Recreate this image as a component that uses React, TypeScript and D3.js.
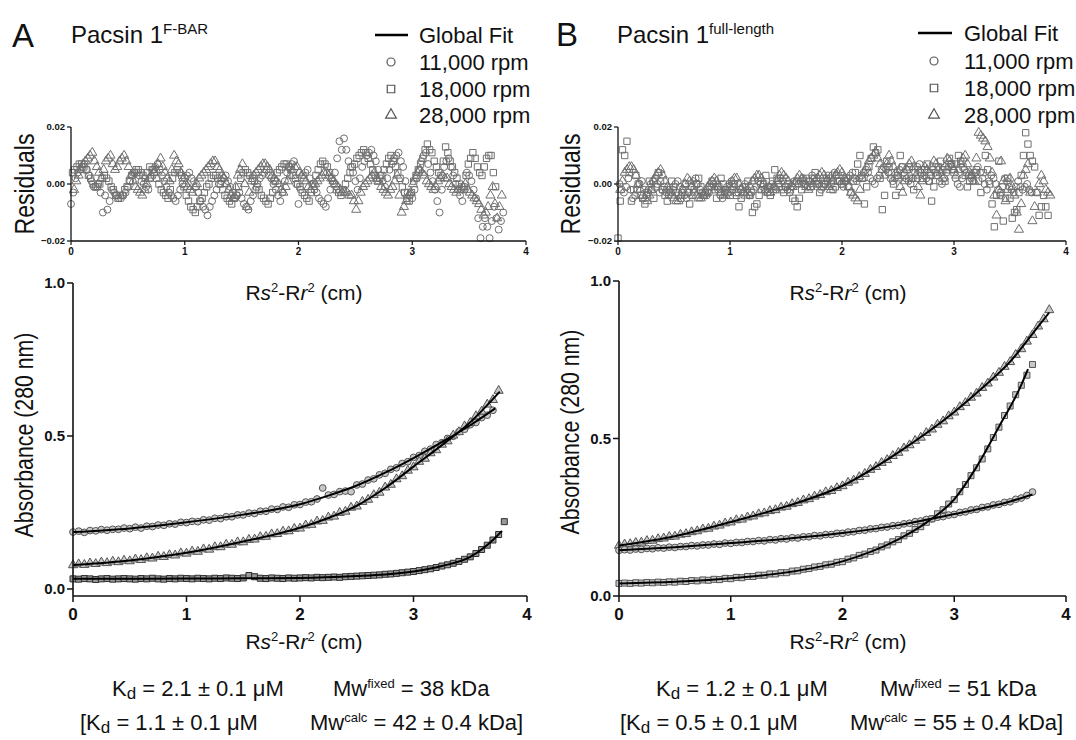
import React from "react";
import * as d3 from "d3";

const FONT = "'Liberation Sans', Arial, Helvetica, sans-serif";

// ---------------- data ----------------
const SPEEDS = ["11,000 rpm", "18,000 rpm", "28,000 rpm"];
const X_TICKS = [0, 1, 2, 3, 4];
const RES_TICKS = [-0.02, 0, 0.02];
const ABS_TICKS = [0, 0.5, 1.0];

const RES_STEP = 0.04; // cm between residual samples (second list sits half a step later)
const ABS_STEP = 0.05; // cm between absorbance samples

// Panel A residuals (absorbance x 10^-3)
const A_RES_11K = [
  -7, 2, 5, 7, 3, -1, 0, -10, -9, -2,
  -4, -5, -3, 1, 4, 3, 0, -2, 5, 7,
  3, -1, -4, -6, -2, 2, 4, 1, -3, -8,
  -11, -6, -2, 1, 3, -1, -5, -3, -7, -9,
  -4, 0, 3, 5, 2, -2, -6, 1, 6, 8,
  -7, 3, 5, 0, -3, -6, -8, -2, 4, 15,
  16, 8, 4, -2, 6, 10, 12, 8, 3, -1,
  5, 9, 11, 6, -3, -5, 2, 8, 11, 4,
  -2, -10, 6, 9, 3, -2, -6, 4, 1, -5,
  -19, -12, -19, -8, -16, -10,
];
const A_RES_11K_B = [
  -3, 4, 6, 5, 1, -1, -3, -4, -6, -3,
  -5, -4, -1, 3, 4, 1, -1, 2, 6, 5,
  1, -3, -5, -4, 0, 3, 2, -1, -6, -9,
  -8, -4, 0, 2, 1, -3, -4, -5, -8, -6,
  -2, 2, 4, 3, 0, -4, -3, 4, 7, 0,
  -2, 4, 2, -2, -5, -7, -5, 1, 9, 12,
  12, 6, 1, 2, 8, 11, 10, 5, 1, 2,
  7, 10, 8, 1, -4, -2, 5, 10, 7, 1,
  -6, -2, 8, 6, 0, -4, -1, 3, -2, -12,
  -15, -15, -13, -12, -13,
];
const A_RES_18K = [
  4, 6, 7, 5, 2, -1, 0, 3, 1, -2,
  -5, -4, -1, 3, 5, 4, 2, 6, 4, 0,
  -3, -5, 2, 5, 3, -4, -8, -10, -6, -3,
  0, 3, 2, -2, -5, -7, -4, 2, 5, 3,
  1, -2, -5, -7, -3, 4, 6, 7, 5, 2,
  -1, -4, -6, 0, 5, 8, 6, 2, -2, -4,
  0, 4, 7, 10, 12, 9, 5, 1, 3, 7,
  10, 6, 2, -3, -6, 1, 5, 9, 14, 11,
  6, 3, 13, 8, 4, 0, -2, 7, 11, 6,
  3, 9, 10, -1,
];
const A_RES_18K_B = [
  5, 7, 6, 3, 0, -1, 2, 2, -1, -4,
  -4, -2, 1, 4, 5, 3, 4, 5, 2, -2,
  -4, -2, 4, 4, -1, -6, -9, -8, -5, -1,
  2, 3, 0, -4, -6, -5, -1, 4, 4, 2,
  -1, -4, -6, -5, 1, 5, 7, 6, 3, 0,
  -3, -5, -3, 3, 7, 7, 4, 0, -3, -2,
  2, 6, 9, 11, 11, 7, 3, 2, 5, 9,
  8, 4, -1, -5, -3, 3, 7, 12, 12, 8,
  4, 8, 11, 6, 2, -1, 3, 9, 9, 4,
  6, 10, 4,
];
const A_RES_28K = [
  -2, 3, 7, 9, 11, 6, 2, 8, 10, 5,
  8, 10, 6, 1, -2, -4, 0, 3, 5, 9,
  4, 1, 10, 7, 2, -1, -3, 0, 3, 5,
  7, 8, 5, 2, -2, -5, 3, 7, -8, 1,
  4, 6, 7, 5, 2, 0, -3, 1, 5, 6,
  3, 1, -2, 0, 2, 4, 3, 1, -1, -3,
  -3, -4, -9, -3, 0, 2, 4, 1, -2, -4,
  -1, 3, -10, -6, -3, 2, 5, 3, 0, -2,
  1, 3, 2, -1, -3, -2, 0, -3, -5, -7,
  -11, -8, -1, -12, -4,
];
const A_RES_28K_B = [
  1, 5, 8, 10, 8, 4, 5, 9, 7, 6,
  9, 8, 3, -1, -3, -2, 2, 4, 7, 6,
  2, 5, 8, 4, 0, -2, -1, 2, 4, 6,
  8, 6, 3, 0, -4, -1, 5, 0, -3, 3,
  5, 7, 6, 3, 1, -2, -1, 3, 6, 4,
  2, -1, -1, 1, 3, 4, 2, 0, -2, -3,
  -4, -6, -6, -1, 1, 3, 2, -1, -3, -2,
  1, -4, -8, -4, 0, 4, 4, 1, -1, -1,
  2, 2, 0, -2, -2, -1, -2, -4, -6, -9,
  -10, -4, -7, -8,
];

// Panel B residuals (absorbance x 10^-3)
const B_RES_11K = [
  0, -3, 2, -5, -2, 1, -4, 0, 2, -3,
  -1, -4, -2, 1, -3, -5, -1, 2, -2, -4,
  -3, 0, -2, -5, -1, 1, -3, -2, 0, -4,
  -2, 1, -1, -3, 0, -2, 2, -1, -3, 1,
  0, 2, -1, 3, 1, -2, 0, 2, 4, 1,
  -1, 2, 4, 1, 3, 5, 2, 0, 3, 6,
  4, 1, 3, 6, 2, 0, 4, 7, 3, 1,
  5, 3, 0, 4, 7, 2, -1, 5, 3, 1,
  6, 2, -2, 3, 0, -4, 2, -1, -3, 1,
  -2, 0, -3,
];
const B_RES_11K_B = [
  -2, -1, -2, -4, 0, -2, -2, 1, 0, -2,
  -3, -3, 0, -1, -4, -3, 1, 0, -3, -4,
  -1, -1, -4, -3, 0, -1, -3, -1, -2, -3,
  -1, 0, -2, -1, -1, 0, 1, -2, -1, 1,
  1, 0, 1, 2, 0, -1, 1, 3, 3, 0,
  1, 3, 2, 2, 4, 4, 1, 2, 5, 5,
  2, 2, 5, 4, 1, 2, 6, 5, 2, 3,
  4, 1, 2, 6, 5, 0, 2, 4, 2, 4,
  4, 0, 1, 2, -2, -1, 1, -2, -1, -1,
  -1, -2,
];
const B_RES_18K = [
  -19, 12, 15, -6, 3, -4, -7, 1, -5, 4,
  -2, -6, 1, -3, -5, 0, -7, -2, 2, -4,
  -3, 1, -5, 2, -2, -4, 0, -8, -3, 1,
  -10, -7, -2, 3, -4, 5, -1, -3, 0, -5,
  -8, -2, 2, -1, 4, -3, 0, 3, -2, 1,
  0, 2, -3, 4, 10, -7, 6, 13, 12, -9,
  8, 4, -4, 10, 3, 6, -2, 5, 2, 7,
  -6, 3, 8, 1, 9, 4, 10, 6, -1, 3,
  5, -3, 10, 0, -15, 8, -13, 2, -12, -9,
  3, 18, 10, 6, -11, -4, -11,
];
const B_RES_18K_B = [
  -6, 10, 4, -2, 0, -5, -3, -2, -1, 1,
  -4, -2, -1, -4, -2, -3, -4, 0, -1, -3,
  -1, -2, -1, 0, -3, -2, -4, -5, -1, -4,
  -8, -4, 0, -1, 1, 2, -2, -1, -2, -6,
  -5, 0, 1, 2, 0, -1, 2, 0, -1, 1,
  1, -1, 1, 7, 2, -1, 9, 11, 2, -4,
  6, 0, 3, 6, 5, 2, 2, 4, 5, 1,
  -1, 6, 5, 5, 7, 7, 8, 3, 1, 4,
  1, 4, 5, -7, -4, -3, -5, -5, -10, -3,
  10, 14, 8, -3, -8, -8,
];
const B_RES_28K = [
  -2, 4, 6, 5, 0, -4, -6, -2, 3, 5,
  1, -3, -5, -6, -2, 2, -1, -4, -5, -3,
  0, 2, -1, -4, -3, 1, 2, -2, -4, -1,
  2, 3, 0, -3, -2, 1, 4, 2, -1, 0,
  3, 1, -2, 0, 2, 4, 1, -2, 3, 5,
  2, -1, -4, -6, 2, 6, 9, 11, 7, 3,
  10, 6, 2, -3, 5, 8, 3, -4, 6, 4,
  8, 5, 2, 9, 6, 3, 7, 10, 4, 1,
  18, 16, 13, 4, -11, 8, -6, 2, -4, -16,
  3, 7, -13, -3, 3, -2, -4,
];
const B_RES_28K_B = [
  1, 5, 6, 3, -2, -5, -4, 1, 4, 3,
  -1, -4, -6, -4, 0, 1, -3, -5, -4, -1,
  1, 1, -3, -4, -1, 2, 0, -3, -3, 1,
  3, 2, -2, -3, -1, 3, 3, 1, -1, 2,
  2, -1, -1, 1, 3, 3, -1, 1, 4, 4,
  1, -3, -5, -2, 4, 8, 10, 9, 5, 7,
  8, 4, -1, 1, 7, 6, -1, 1, 5, 6,
  7, 4, 6, 8, 5, 5, 9, 7, 3, 9,
  17, 15, 9, -4, -2, 1, -2, -1, -10, -7,
  5, -3, -8, 0, 1, -3,
];

// Panel A absorbance data (every 0.05 cm from 0)
const A_ABS_TOP = [
  0.186, 0.189, 0.185, 0.191, 0.190, 0.194, 0.192, 0.195, 0.195, 0.199,
  0.197, 0.202, 0.199, 0.205, 0.204, 0.209, 0.208, 0.213, 0.212, 0.218,
  0.217, 0.221, 0.220, 0.226, 0.225, 0.231, 0.230, 0.236, 0.236, 0.242,
  0.242, 0.248, 0.247, 0.254, 0.254, 0.261, 0.260, 0.268, 0.267, 0.275,
  0.276, 0.284, 0.285, 0.294, 0.330, 0.307, 0.309, 0.318, 0.320, 0.318,
  0.340, 0.343, 0.356, 0.360, 0.373, 0.378, 0.391, 0.396, 0.410, 0.416,
  0.430, 0.436, 0.450, 0.457, 0.472, 0.478, 0.492, 0.499, 0.514, 0.522,
  0.537, 0.544, 0.560, 0.568, 0.584,
];
const A_ABS_MID = [
  0.078, 0.081, 0.079, 0.084, 0.082, 0.087, 0.085, 0.090, 0.088, 0.093,
  0.091, 0.097, 0.095, 0.101, 0.100, 0.106, 0.105, 0.111, 0.110, 0.117,
  0.116, 0.123, 0.122, 0.130, 0.129, 0.137, 0.137, 0.145, 0.145, 0.153,
  0.153, 0.161, 0.162, 0.170, 0.171, 0.179, 0.180, 0.188, 0.189, 0.197,
  0.198, 0.208, 0.210, 0.221, 0.223, 0.234, 0.237, 0.249, 0.253, 0.266,
  0.270, 0.285, 0.292, 0.307, 0.315, 0.332, 0.341, 0.359, 0.369, 0.387,
  0.398, 0.416, 0.426, 0.444, 0.454, 0.472, 0.483, 0.502, 0.513, 0.532,
  0.543, 0.565, 0.580, 0.603, 0.618, 0.648,
];
const A_ABS_LOW = [
  0.033, 0.032, 0.034, 0.033, 0.031, 0.033, 0.034, 0.032, 0.033, 0.034,
  0.033, 0.032, 0.034, 0.033, 0.035, 0.033, 0.032, 0.034, 0.033, 0.035,
  0.034, 0.033, 0.035, 0.034, 0.033, 0.035, 0.034, 0.036, 0.035, 0.034,
  0.036, 0.044, 0.040, 0.035, 0.034, 0.036, 0.035, 0.034, 0.036, 0.035,
  0.036, 0.037, 0.036, 0.038, 0.037, 0.038, 0.039, 0.038, 0.040, 0.041,
  0.042, 0.043, 0.044, 0.045, 0.046, 0.048, 0.049, 0.051, 0.053, 0.055,
  0.057, 0.060, 0.063, 0.066, 0.070, 0.075, 0.079, 0.084, 0.090, 0.097,
  0.105, 0.116, 0.129, 0.143, 0.160, 0.178, 0.220,
];

// Panel B absorbance data (every 0.05 cm from 0)
const B_ABS_TOP = [
  0.160, 0.164, 0.165, 0.169, 0.170, 0.175, 0.176, 0.181, 0.183, 0.188,
  0.189, 0.195, 0.197, 0.203, 0.206, 0.212, 0.214, 0.221, 0.224, 0.231,
  0.234, 0.241, 0.243, 0.250, 0.253, 0.260, 0.263, 0.270, 0.273, 0.281,
  0.284, 0.292, 0.296, 0.304, 0.308, 0.316, 0.321, 0.330, 0.334, 0.343,
  0.349, 0.360, 0.367, 0.378, 0.388, 0.401, 0.410, 0.423, 0.432, 0.445,
  0.455, 0.469, 0.479, 0.493, 0.503, 0.518, 0.529, 0.544, 0.555, 0.571,
  0.583, 0.600, 0.613, 0.630, 0.643, 0.661, 0.675, 0.694, 0.709, 0.728,
  0.743, 0.766, 0.784, 0.808, 0.829, 0.856, 0.879, 0.908,
];
const B_ABS_MID = [
  0.145, 0.147, 0.146, 0.149, 0.148, 0.151, 0.150, 0.153, 0.152, 0.155,
  0.154, 0.157, 0.157, 0.160, 0.159, 0.162, 0.162, 0.165, 0.164, 0.168,
  0.167, 0.170, 0.170, 0.173, 0.173, 0.176, 0.175, 0.179, 0.178, 0.182,
  0.181, 0.185, 0.184, 0.188, 0.188, 0.192, 0.191, 0.195, 0.195, 0.199,
  0.199, 0.203, 0.204, 0.208, 0.209, 0.213, 0.214, 0.218, 0.219, 0.223,
  0.224, 0.229, 0.231, 0.236, 0.238, 0.243, 0.245, 0.250, 0.252, 0.257,
  0.259, 0.265, 0.267, 0.273, 0.275, 0.281, 0.283, 0.289, 0.291, 0.297,
  0.299, 0.307, 0.311, 0.319, 0.330,
];
const B_ABS_LOW = [
  0.040, 0.041, 0.040, 0.042, 0.041, 0.043, 0.042, 0.044, 0.043, 0.045,
  0.044, 0.047, 0.046, 0.049, 0.048, 0.051, 0.050, 0.053, 0.052, 0.056,
  0.055, 0.059, 0.058, 0.062, 0.062, 0.066, 0.066, 0.070, 0.070, 0.074,
  0.074, 0.079, 0.080, 0.085, 0.087, 0.092, 0.094, 0.099, 0.101, 0.107,
  0.109, 0.117, 0.121, 0.129, 0.133, 0.141, 0.146, 0.156, 0.162, 0.172,
  0.179, 0.191, 0.199, 0.211, 0.220, 0.234, 0.245, 0.261, 0.274, 0.292,
  0.306, 0.331, 0.354, 0.382, 0.407, 0.435, 0.467, 0.503, 0.536, 0.573,
  0.603, 0.639, 0.669, 0.701, 0.735,
];

// Global fit curves (x in cm, y absorbance)
const A_FIT_TOP_X = [0, 0.5, 1, 1.5, 2, 2.25, 2.5, 2.75, 3, 3.25, 3.5, 3.72];
const A_FIT_TOP_Y = [0.186, 0.198, 0.218, 0.243, 0.277, 0.305, 0.338, 0.38, 0.428, 0.48, 0.535, 0.59];
const A_FIT_MID_X = [0, 0.5, 1, 1.5, 2, 2.25, 2.5, 2.75, 3, 3.25, 3.5, 3.76];
const A_FIT_MID_Y = [0.078, 0.093, 0.118, 0.155, 0.2, 0.232, 0.272, 0.33, 0.4, 0.47, 0.545, 0.645];
const A_FIT_LOW_X = [0, 0.5, 1, 1.5, 2, 2.5, 2.75, 3, 3.25, 3.5, 3.6, 3.7, 3.78];
const A_FIT_LOW_Y = [0.033, 0.033, 0.034, 0.035, 0.036, 0.042, 0.047, 0.057, 0.075, 0.105, 0.129, 0.16, 0.19];
const B_FIT_TOP_X = [0, 0.5, 1, 1.5, 2, 2.5, 3, 3.25, 3.5, 3.75, 3.85];
const B_FIT_TOP_Y = [0.16, 0.19, 0.235, 0.285, 0.35, 0.456, 0.584, 0.66, 0.744, 0.855, 0.9];
const B_FIT_MID_X = [0, 0.5, 1, 1.5, 2, 2.5, 3, 3.5, 3.7];
const B_FIT_MID_Y = [0.145, 0.155, 0.168, 0.182, 0.2, 0.225, 0.26, 0.3, 0.322];
const B_FIT_LOW_X = [0, 0.5, 1, 1.5, 2, 2.25, 2.5, 2.75, 3, 3.2, 3.4, 3.6, 3.66];
const B_FIT_LOW_Y = [0.04, 0.045, 0.056, 0.075, 0.11, 0.14, 0.18, 0.233, 0.307, 0.41, 0.537, 0.67, 0.72];

// ---------------- helpers ----------------
type Shape = "circle" | "square" | "triangle";
const SHAPES: Shape[] = ["circle", "square", "triangle"];

function symPath(shape: Shape, area: number): string {
  const t = shape === "circle" ? d3.symbolCircle : shape === "square" ? d3.symbolSquare : d3.symbolTriangle;
  return d3.symbol().type(t).size(area)() as string;
}

type ResSeries = { x0: number; values: number[]; values2: number[]; shape: Shape };
type AbsSeries = { values: number[]; shape: Shape; fitX: number[]; fitY: number[]; dark?: boolean };

type PanelCfg = {
  letter: string;
  letterX: number;
  letterY: number;
  titleX: number;
  titleY: number;
  sup: string;
  legLineX: [number, number];
  legSymX: number;
  legTextX: number;
  legBase: number[];
  resX: [number, number];
  resY: [number, number];
  resTitleX: number;
  absX: [number, number];
  absDomain: [number, number];
  absY: [number, number];
  absTitleX: number;
  absTitleY: number;
  xTitleCx: number;
  res: ResSeries[];
  abs: AbsSeries[];
  kd1: string;
  mw1: string;
  kd2: string;
  mw2: string;
  kd1X: number;
  mw1X: number;
  kd2X: number;
  mw2X: number;
};

const PANELS: PanelCfg[] = [
  {
    letter: "A", letterX: 12, letterY: 47, titleX: 71, titleY: 43, sup: "F-BAR",
    legLineX: [375, 408], legSymX: 391, legTextX: 419, legBase: [43, 70, 97, 123],
    resX: [71, 526], resY: [241, 127], resTitleX: 24,
    absX: [73, 527], absDomain: [-0.023, 1], absY: [596, 283], absTitleX: 24, absTitleY: 435,
    xTitleCx: 304,
    res: [
      { x0: 0, values: A_RES_11K, values2: A_RES_11K_B, shape: "circle" },
      { x0: 0.013, values: A_RES_18K, values2: A_RES_18K_B, shape: "square" },
      { x0: 0.027, values: A_RES_28K, values2: A_RES_28K_B, shape: "triangle" },
    ],
    abs: [
      { values: A_ABS_TOP, shape: "circle", fitX: A_FIT_TOP_X, fitY: A_FIT_TOP_Y },
      { values: A_ABS_MID, shape: "triangle", fitX: A_FIT_MID_X, fitY: A_FIT_MID_Y },
      { values: A_ABS_LOW, shape: "square", fitX: A_FIT_LOW_X, fitY: A_FIT_LOW_Y, dark: true },
    ],
    kd1: "2.1", mw1: "= 38 kDa", kd2: "1.1", mw2: "= 42 \u00b1 0.4 kDa]",
    kd1X: 112, mw1X: 333, kd2X: 80, mw2X: 310,
  },
  {
    letter: "B", letterX: 556, letterY: 46, titleX: 617, titleY: 43, sup: "full-length",
    legLineX: [918, 952], legSymX: 934, legTextX: 964, legBase: [41, 69, 96, 123],
    resX: [618, 1066], resY: [241, 127], resTitleX: 570,
    absX: [619, 1066], absDomain: [0, 1], absY: [596, 281], absTitleX: 570, absTitleY: 432,
    xTitleCx: 848,
    res: [
      { x0: 0.013, values: B_RES_11K, values2: B_RES_11K_B, shape: "circle" },
      { x0: 0, values: B_RES_18K, values2: B_RES_18K_B, shape: "square" },
      { x0: 0.02, values: B_RES_28K, values2: B_RES_28K_B, shape: "triangle" },
    ],
    abs: [
      { values: B_ABS_TOP, shape: "triangle", fitX: B_FIT_TOP_X, fitY: B_FIT_TOP_Y },
      { values: B_ABS_MID, shape: "circle", fitX: B_FIT_MID_X, fitY: B_FIT_MID_Y },
      { values: B_ABS_LOW, shape: "square", fitX: B_FIT_LOW_X, fitY: B_FIT_LOW_Y },
    ],
    kd1: "1.2", mw1: "= 51 kDa", kd2: "0.5", mw2: "= 55 \u00b1 0.4  kDa]",
    kd1X: 656, mw1X: 880, kd2X: 620, mw2X: 850,
  },
];

function XTitle({ cx, y }: { cx: number; y: number }) {
  return (
    <text x={cx} y={y} textAnchor="middle" fontSize={21} fontFamily={FONT} fill="#111">
      <tspan>R</tspan>
      <tspan fontStyle="italic">s</tspan>
      <tspan fontSize={13} dy={-8}>2</tspan>
      <tspan dy={8}>-R</tspan>
      <tspan fontStyle="italic">r</tspan>
      <tspan fontSize={13} dy={-8}>2</tspan>
      <tspan dy={8}> (cm)</tspan>
    </text>
  );
}

function Panel({ cfg }: { cfg: PanelCfg }) {
  const rx = d3.scaleLinear().domain([0, 4]).range(cfg.resX);
  const ry = d3.scaleLinear().domain([-0.02, 0.02]).range(cfg.resY);
  const ax = d3.scaleLinear().domain([0, 4]).range(cfg.absX);
  const ay = d3.scaleLinear().domain(cfg.absDomain).range(cfg.absY);
  const fitLine = (xs: number[], ys: number[]) =>
    d3
      .line<number>()
      .x((_, i) => ax(xs[i]))
      .y((v) => ay(v))
      .curve(d3.curveMonotoneX)(ys) as string;

  const resBottom = ry(-0.02);
  const absBottom = cfg.absY[0];
  const absX0 = ax(0);
  const resX0 = rx(0);
  const tickFmtRes = d3.format(".2f");
  const tickFmtAbs = d3.format(".1f");
  const resArea = (s: Shape) => (s === "square" ? 40 : s === "triangle" ? 36 : 38);

  return (
    <g>
      {/* heading */}
      <text x={cfg.letterX} y={cfg.letterY} fontSize={33} fontFamily={FONT} fill="#111">{cfg.letter}</text>
      <text x={cfg.titleX} y={cfg.titleY} fontSize={24} fontFamily={FONT} fill="#111">
        Pacsin 1<tspan fontSize={15} dy={-9}>{cfg.sup}</tspan>
      </text>

      {/* legend */}
      <line x1={cfg.legLineX[0]} x2={cfg.legLineX[1]} y1={cfg.legBase[0] - 8} y2={cfg.legBase[0] - 8} stroke="#000" strokeWidth={2.5} />
      <text x={cfg.legTextX} y={cfg.legBase[0]} fontSize={22} fontFamily={FONT} fill="#111">Global Fit</text>
      {SPEEDS.map((s, i) => (
        <g key={s}>
          <path
            d={symPath(SHAPES[i], i === 1 ? 56 : 50)}
            transform={`translate(${cfg.legSymX},${cfg.legBase[i + 1] - 8})`}
            fill="none"
            stroke="#555"
            strokeWidth={1.2}
          />
          <text x={cfg.legTextX} y={cfg.legBase[i + 1]} fontSize={22} fontFamily={FONT} fill="#111">{s}</text>
        </g>
      ))}

      {/* residual plot */}
      <g>
        {cfg.res.map((s, si) => (
          <g key={si} fill="none" stroke="#707070" strokeWidth={1}>
            {s.values.map((v, i) => (
              <path
                key={`a${i}`}
                d={symPath(s.shape, resArea(s.shape))}
                transform={`translate(${rx(s.x0 + i * RES_STEP)},${ry(v / 1000)})`}
              />
            ))}
            {s.values2.map((v, i) => (
              <path
                key={`b${i}`}
                d={symPath(s.shape, resArea(s.shape))}
                transform={`translate(${rx(s.x0 + (i + 0.5) * RES_STEP)},${ry(v / 1000)})`}
              />
            ))}
          </g>
        ))}
        <line x1={resX0} x2={resX0} y1={ry(0.02)} y2={resBottom} stroke="#111" strokeWidth={1.3} />
        <line x1={resX0} x2={rx(4)} y1={resBottom} y2={resBottom} stroke="#111" strokeWidth={1.3} />
        {RES_TICKS.map((t) => (
          <g key={t}>
            <line x1={resX0 - 4} x2={resX0} y1={ry(t)} y2={ry(t)} stroke="#111" strokeWidth={1.2} />
            <text x={resX0 - 6} y={ry(t)} dy="0.35em" textAnchor="end" fontSize={9.5} fontWeight="bold" fontFamily={FONT} fill="#111">
              {tickFmtRes(t)}
            </text>
          </g>
        ))}
        {X_TICKS.map((t) => (
          <g key={t}>
            <line x1={rx(t)} x2={rx(t)} y1={resBottom} y2={resBottom + 4} stroke="#111" strokeWidth={1.2} />
            <text x={rx(t)} y={resBottom + 14} textAnchor="middle" fontSize={10} fontWeight="bold" fontFamily={FONT} fill="#111">
              {t}
            </text>
          </g>
        ))}
        <text
          transform={`translate(${cfg.resTitleX},${(ry(0.02) + resBottom) / 2}) rotate(-90) scale(0.82,1)`}
          textAnchor="middle"
          dy="0.35em"
          fontSize={28}
          fontFamily={FONT}
          fill="#111"
        >
          Residuals
        </text>
        <XTitle cx={cfg.xTitleCx} y={300} />
      </g>

      {/* absorbance plot */}
      <g>
        {cfg.abs.map((s, si) => (
          <g key={si} fill={s.dark ? "#999" : "#c8c8c8"} stroke={s.dark ? "#2e2e2e" : "#555"} strokeWidth={1}>
            {s.values.map((v, i) => (
              <path
                key={i}
                d={symPath(s.shape, 36)}
                transform={`translate(${ax(i * ABS_STEP)},${ay(v)})`}
              />
            ))}
          </g>
        ))}
        {cfg.abs.map((s, si) => (
          <path key={si} d={fitLine(s.fitX, s.fitY)} fill="none" stroke="#000" strokeWidth={2} />
        ))}
        <line x1={absX0} x2={absX0} y1={ay(1)} y2={absBottom} stroke="#111" strokeWidth={1.6} />
        <line x1={absX0} x2={ax(4)} y1={absBottom} y2={absBottom} stroke="#111" strokeWidth={1.6} />
        {ABS_TICKS.map((t) => (
          <g key={t}>
            <line x1={absX0 - 6} x2={absX0} y1={ay(t)} y2={ay(t)} stroke="#111" strokeWidth={1.5} />
            <text x={absX0 - 8} y={ay(t)} dy="0.35em" textAnchor="end" fontSize={15} fontWeight="bold" fontFamily={FONT} fill="#111">
              {tickFmtAbs(t)}
            </text>
          </g>
        ))}
        {X_TICKS.map((t) => (
          <g key={t}>
            <line x1={ax(t)} x2={ax(t)} y1={absBottom} y2={absBottom + 6} stroke="#111" strokeWidth={1.5} />
            <text x={ax(t)} y={620} textAnchor="middle" fontSize={17} fontWeight="bold" fontFamily={FONT} fill="#111">
              {t}
            </text>
          </g>
        ))}
        <text
          transform={`translate(${cfg.absTitleX},${cfg.absTitleY}) rotate(-90) scale(0.82,1)`}
          textAnchor="middle"
          dy="0.35em"
          fontSize={26}
          fontFamily={FONT}
          fill="#111"
        >
          Absorbance (280 nm)
        </text>
        <XTitle cx={cfg.xTitleCx} y={649} />
      </g>

      {/* fit results */}
      <text x={cfg.kd1X} y={696} fontSize={22} fontFamily={FONT} fill="#111">
        K<tspan fontSize={17} dy={3}>d</tspan>
        <tspan dy={-3}>{` = ${cfg.kd1} \u00b1 0.1 \u03bcM`}</tspan>
      </text>
      <text x={cfg.mw1X} y={696} fontSize={22} fontFamily={FONT} fill="#111">
        Mw<tspan fontSize={13} dy={-8}>fixed</tspan>
        <tspan dy={8}>{` ${cfg.mw1}`}</tspan>
      </text>
      <text x={cfg.kd2X} y={730} fontSize={22} fontFamily={FONT} fill="#111">
        [K<tspan fontSize={17} dy={3}>d</tspan>
        <tspan dy={-3}>{` = ${cfg.kd2} \u00b1 0.1 \u03bcM`}</tspan>
      </text>
      <text x={cfg.mw2X} y={730} fontSize={22} fontFamily={FONT} fill="#111">
        Mw<tspan fontSize={13} dy={-8}>calc</tspan>
        <tspan dy={8}>{` ${cfg.mw2}`}</tspan>
      </text>
    </g>
  );
}

export default function App() {
  return (
    <svg
      width={1076}
      height={740}
      viewBox="0 0 1076 740"
      style={{ position: "absolute", left: 0, top: 0, background: "#fff", display: "block" }}
    >
      <rect width={1076} height={740} fill="#fff" />
      {PANELS.map((p) => (
        <Panel key={p.letter} cfg={p} />
      ))}
    </svg>
  );
}
